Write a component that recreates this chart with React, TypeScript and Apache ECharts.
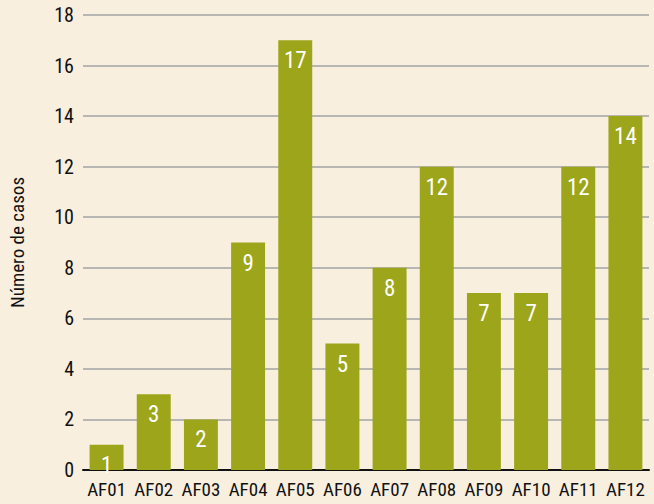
import React, { useEffect, useRef } from "react";
import * as echarts from "echarts";

const categories = ["AF01", "AF02", "AF03", "AF04", "AF05", "AF06", "AF07", "AF08", "AF09", "AF10", "AF11", "AF12"];
const casos = [1, 3, 2, 9, 17, 5, 8, 12, 7, 7, 12, 14];
const yTicks = [0, 2, 4, 6, 8, 10, 12, 14, 16, 18];

const FONT = "'Liberation Sans Narrow', 'Roboto Condensed', 'Liberation Sans', sans-serif";

export default function App() {
  const ref = useRef<HTMLDivElement>(null);
  useEffect(() => {
    if (!ref.current) return;
    const chart = echarts.init(ref.current, null, { renderer: "svg" });
    chart.setOption({
      animation: false,
      backgroundColor: "#f8efdf",
      grid: { left: 83, right: 5, top: 15, bottom: 34 },
      xAxis: {
        type: "category",
        data: categories,
        axisLine: { lineStyle: { color: "#111", width: 2 } },
        axisTick: { inside: true, length: 10, lineStyle: { color: "#111", width: 2 } },
        axisLabel: { color: "#111", fontSize: 19, fontFamily: FONT, margin: 10, interval: 0 },
      },
      yAxis: {
        type: "value",
        min: yTicks[0],
        max: yTicks[yTicks.length - 1],
        interval: 2,
        name: "Número de casos",
        nameLocation: "middle",
        nameGap: 56,
        nameTextStyle: { color: "#111", fontSize: 19, fontFamily: FONT },
        axisLine: { show: false },
        axisTick: { show: false },
        axisLabel: { color: "#111", fontSize: 20, fontFamily: FONT, margin: 9 },
        splitLine: { lineStyle: { color: "#a3a3a3", width: 1.5 } },
      },
      series: [
        {
          type: "bar",
          data: casos,
          barWidth: "72%",
          itemStyle: { color: "#9da61b" },
          label: {
            show: true,
            position: "insideTop",
            distance: 9,
            color: "#ffffff",
            fontSize: 23,
            fontFamily: FONT,
          },
        },
      ],
    });
    return () => chart.dispose();
  }, []);
  return <div ref={ref} style={{ width: 654, height: 504, position: "absolute", left: 0, top: 0 }} />;
}
